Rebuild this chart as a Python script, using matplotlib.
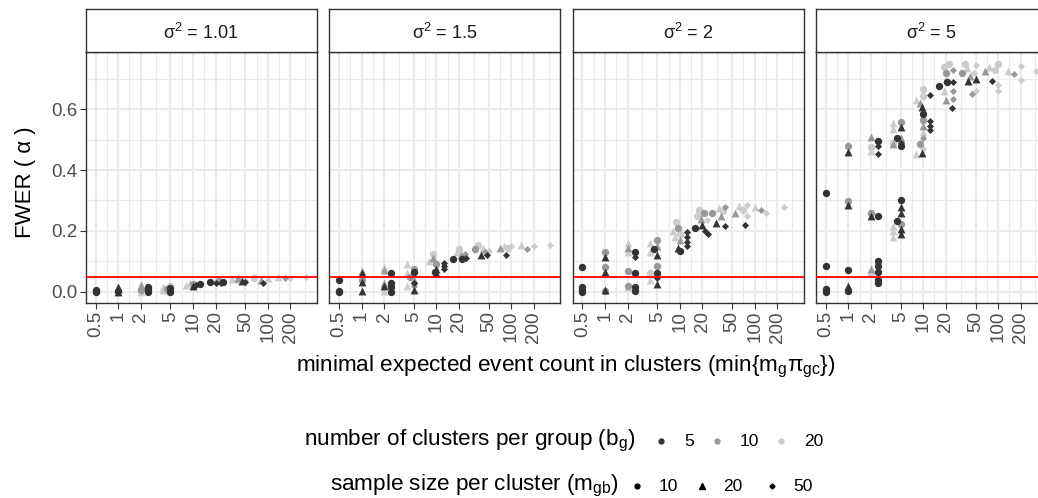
import matplotlib
matplotlib.use("Agg")
import matplotlib.pyplot as plt
import numpy as np
from matplotlib.lines import Line2D
from matplotlib.ticker import FixedLocator

plt.rcParams['font.family'] = ['Liberation Sans', 'DejaVu Sans']
plt.rcParams['mathtext.fontset'] = 'custom'
plt.rcParams['mathtext.rm'] = 'Liberation Sans'
plt.rcParams['mathtext.it'] = 'Liberation Sans'
plt.rcParams['mathtext.bf'] = 'Liberation Sans:bold'
plt.rcParams['mathtext.sf'] = 'Liberation Sans'

# facet labels (cluster variance)
sigma2_labels = ["1.01", "1.5", "2", "5"]

# x ticks: minimal expected event count
x_ticks = [0.5, 1, 2, 5, 10, 20, 50, 100, 200]
x_tick_labels = ["0.5", "1", "2", "5", "10", "20", "50", "100", "200"]
y_ticks = [0.0, 0.2, 0.4, 0.6]
y_tick_labels = ["0.0", "0.2", "0.4", "0.6"]
alpha_level = 0.05

# levels of the two design factors
b_levels = [5, 10, 20]          # clusters per group
m_levels = [10, 20, 50]         # sample size per cluster

# each point: (min expected count, FWER, b_g, m_gb)
fwer_s101 = [
    (0.5, 0.002, 5, 10), (0.5, 0.006, 5, 10), (0.5, 0.0, 5, 10),
    (1, 0.0, 5, 20), (1, 0.008, 5, 20), (1, 0.016, 5, 20), (1, 0.004, 5, 10),
    (2, 0.0, 20, 20), (2, 0.012, 20, 20), (2, 0.022, 10, 20), (2, 0.005, 10, 10),
    (2.5, 0.0, 5, 10), (2.5, 0.008, 5, 10), (2.5, 0.016, 5, 10), (2.5, 0.004, 5, 50),
    (4, 0.005, 20, 20), (4, 0.015, 20, 20), (4.5, 0.01, 10, 10), (5, 0.0, 5, 10),
    (5, 0.012, 5, 10), (5, 0.02, 20, 10), (5, 0.006, 10, 50),
    (8, 0.022, 20, 20), (9, 0.03, 20, 20), (10, 0.02, 5, 20), (10, 0.026, 10, 10),
    (11, 0.022, 5, 50), (12.5, 0.025, 5, 10),
    (17, 0.032, 5, 10), (20, 0.04, 20, 20), (22, 0.036, 10, 10), (24, 0.03, 5, 50),
    (25, 0.033, 5, 10), (20, 0.028, 5, 50),
    (33, 0.042, 20, 20), (40, 0.045, 10, 20), (45, 0.035, 5, 20), (50, 0.04, 20, 50),
    (50, 0.032, 5, 50), (40, 0.04, 20, 10),
    (65, 0.045, 20, 10), (80, 0.04, 10, 20), (85, 0.03, 5, 50), (100, 0.046, 20, 20),
    (135, 0.047, 20, 20), (170, 0.044, 10, 50), (200, 0.046, 20, 50), (325, 0.048, 20, 50),
]

fwer_s15 = [
    (0.5, 0.038, 5, 10), (0.5, 0.003, 5, 10), (0.5, 0.0, 5, 10),
    (1, 0.069, 10, 20), (1, 0.06, 5, 20), (1, 0.031, 5, 20), (1, 0.04, 10, 10), (1, 0.003, 5, 20),
    (2, 0.08, 20, 20), (2, 0.07, 10, 20), (2, 0.03, 10, 20), (2, 0.02, 5, 20), (2, 0.004, 20, 20),
    (2.5, 0.06, 5, 10), (2.5, 0.03, 5, 10), (2.5, 0.015, 5, 10), (2.5, 0.0, 5, 10),
    (4, 0.09, 20, 20), (4, 0.06, 20, 20), (4, 0.02, 20, 20), (4.5, 0.05, 10, 10),
    (5, 0.075, 10, 10), (5, 0.065, 5, 10), (5, 0.04, 10, 20), (5, 0.02, 10, 50),
    (5, 0.005, 5, 20), (5, 0.03, 5, 50),
    (8, 0.1, 20, 20), (9, 0.125, 20, 10), (9, 0.11, 10, 20), (10, 0.09, 10, 10),
    (10, 0.075, 5, 20), (9.5, 0.065, 5, 10), (10, 0.06, 5, 20),
    (12.5, 0.095, 5, 50), (12.5, 0.085, 5, 50), (12.5, 0.075, 5, 50),
    (16.5, 0.108, 5, 10), (19, 0.13, 20, 20), (20, 0.14, 20, 10), (21, 0.12, 10, 20),
    (22, 0.108, 5, 10), (24, 0.125, 10, 50), (25, 0.11, 5, 50), (20, 0.145, 20, 20),
    (33, 0.14, 10, 10), (36, 0.155, 20, 10), (40, 0.12, 5, 20), (42, 0.145, 20, 20),
    (45, 0.13, 10, 50), (50, 0.135, 20, 50), (48, 0.12, 5, 50),
    (70, 0.145, 10, 20), (80, 0.152, 20, 20), (85, 0.12, 5, 50), (90, 0.145, 20, 10),
    (100, 0.15, 20, 50),
    (135, 0.155, 20, 20), (165, 0.14, 10, 50), (200, 0.15, 20, 50), (325, 0.155, 20, 50),
]

fwer_s2 = [
    (0.5, 0.082, 5, 10), (0.5, 0.014, 5, 10), (0.5, 0.005, 5, 10), (0.5, 0.0, 5, 10),
    (1, 0.13, 10, 10), (1, 0.113, 5, 20), (1, 0.082, 10, 10), (1, 0.064, 5, 20),
    (1, 0.006, 5, 20), (1, 0.003, 10, 10),
    (2, 0.16, 20, 20), (2, 0.145, 10, 20), (2, 0.13, 20, 20), (2, 0.069, 10, 10),
    (2, 0.014, 20, 20), (2, 0.02, 10, 10),
    (2.5, 0.13, 5, 10), (2.5, 0.115, 5, 50), (2.5, 0.06, 5, 10), (2.5, 0.015, 5, 10),
    (2.5, 0.003, 5, 10),
    (4, 0.16, 20, 20), (4, 0.13, 20, 20), (4, 0.06, 20, 10), (4, 0.04, 20, 20),
    (4.5, 0.14, 5, 10), (5, 0.17, 10, 10), (5, 0.15, 10, 20), (5, 0.12, 5, 20),
    (5, 0.085, 10, 10), (5, 0.06, 5, 10), (5, 0.045, 5, 50), (5, 0.025, 5, 20),
    (8, 0.2, 20, 20), (8.5, 0.18, 20, 20), (9, 0.23, 20, 10), (9.5, 0.21, 10, 10),
    (10, 0.19, 20, 10), (10, 0.17, 10, 20), (9.5, 0.145, 5, 20), (10, 0.135, 5, 10),
    (12.5, 0.195, 5, 50), (12.5, 0.18, 5, 50), (12.5, 0.165, 5, 50), (12.5, 0.15, 5, 50),
    (16, 0.21, 5, 10), (17, 0.25, 20, 10), (18, 0.27, 20, 10), (19, 0.24, 10, 20),
    (20, 0.22, 5, 20), (21, 0.26, 10, 10), (22, 0.2, 5, 50), (23, 0.235, 20, 50),
    (24, 0.19, 5, 50),
    (27, 0.26, 10, 10), (30, 0.225, 5, 20), (33, 0.275, 20, 20), (35, 0.25, 10, 20),
    (38, 0.265, 20, 10), (40, 0.217, 5, 50), (40, 0.28, 10, 50),
    (55, 0.26, 10, 20), (62, 0.283, 20, 20), (70, 0.27, 20, 10), (75, 0.22, 5, 50),
    (80, 0.285, 20, 50), (78, 0.25, 20, 50),
    (100, 0.28, 20, 20), (120, 0.27, 10, 50), (140, 0.26, 20, 50), (250, 0.277, 20, 50),
]

fwer_s5 = [
    (0.5, 0.323, 5, 10), (0.5, 0.085, 5, 10), (0.5, 0.01, 5, 10), (0.5, 0.0, 5, 10),
    (1, 0.48, 10, 10), (1, 0.458, 5, 20), (1, 0.297, 10, 10), (1, 0.286, 5, 20),
    (1, 0.072, 5, 10), (1, 0.02, 5, 20), (1, 0.003, 5, 10),
    (2, 0.507, 10, 20), (2, 0.475, 20, 10), (2, 0.464, 20, 20), (2, 0.258, 10, 10),
    (2, 0.25, 5, 20), (2, 0.076, 10, 20), (2, 0.059, 20, 10),
    (2.5, 0.494, 5, 10), (2.5, 0.48, 5, 50), (2.5, 0.454, 5, 50), (2.5, 0.25, 5, 10),
    (2.5, 0.1, 5, 10), (2.5, 0.085, 5, 10), (2.5, 0.065, 5, 10), (2.5, 0.04, 5, 10),
    (2.5, 0.03, 5, 10),
    (4, 0.553, 20, 20), (4, 0.535, 20, 20), (4, 0.49, 20, 10), (4, 0.487, 10, 20),
    (4, 0.217, 20, 20), (4, 0.2, 20, 20), (4, 0.18, 20, 20), (4.5, 0.505, 5, 10),
    (4.5, 0.233, 5, 10), (5, 0.557, 10, 10), (5, 0.54, 5, 20), (5, 0.505, 10, 20),
    (5, 0.49, 5, 50), (5, 0.48, 5, 10), (5, 0.303, 5, 10), (5, 0.277, 5, 20),
    (5, 0.26, 5, 20), (5, 0.223, 10, 10), (5, 0.207, 5, 20), (5, 0.19, 5, 20),
    (8, 0.63, 20, 20), (8, 0.454, 20, 20), (9, 0.62, 10, 20), (9.5, 0.606, 5, 20),
    (9.5, 0.456, 5, 20), (10, 0.667, 20, 10), (10, 0.645, 20, 10), (10, 0.585, 5, 10),
    (10, 0.565, 10, 10), (10, 0.545, 10, 20), (10, 0.525, 20, 20), (10, 0.505, 10, 50),
    (9, 0.487, 10, 10), (10, 0.47, 20, 50), (12.5, 0.648, 5, 50), (12.5, 0.562, 5, 50),
    (12.5, 0.545, 5, 50), (12.5, 0.53, 5, 50),
    (16.5, 0.675, 5, 10), (19, 0.74, 20, 10), (20, 0.72, 10, 10), (20, 0.7, 20, 20),
    (19, 0.66, 20, 20), (20, 0.63, 10, 20), (21, 0.69, 5, 10), (22, 0.75, 20, 10),
    (25, 0.73, 10, 50), (25, 0.69, 5, 50), (25, 0.66, 10, 50), (25, 0.635, 10, 50),
    (24, 0.603, 5, 50),
    (33, 0.72, 10, 10), (36, 0.75, 20, 10), (40, 0.694, 5, 20), (38, 0.735, 20, 20),
    (42, 0.71, 10, 20), (45, 0.65, 10, 50), (48, 0.72, 20, 50), (50, 0.7, 5, 20),
    (50, 0.745, 20, 50), (50, 0.66, 20, 50),
    (66, 0.727, 10, 20), (75, 0.74, 20, 20), (84, 0.692, 5, 50), (90, 0.73, 20, 10),
    (100, 0.75, 20, 10), (100, 0.68, 20, 50), (100, 0.66, 20, 50),
    (135, 0.727, 20, 20), (166, 0.717, 10, 50), (200, 0.743, 20, 50), (200, 0.697, 20, 50),
    (325, 0.727, 20, 50),
]

panels = [fwer_s101, fwer_s15, fwer_s2, fwer_s5]

# aesthetics
colour_of = {5: "#333333", 10: "#999999", 20: "#cccccc"}
marker_of = {10: "o", 20: "^", 50: "D"}
size_of = {10: 28, 20: 32, 50: 13}
grid_col = "#ebebeb"
frame_col = "#333333"
tick_col = "#4d4d4d"

W, H = 1038, 498
fig = plt.figure(figsize=(W / 100, H / 100), dpi=100)

px_left0, px_w, px_step = 85.7, 231.0, 243.4
px_top, px_bot, px_strip_top = 52.3, 302.7, 9.3

xlim = (0.368, 450)
ylim = (-0.036, 0.787)
x_minor = [np.sqrt(a * b) for a, b in zip([0.5, 1, 2, 5, 10, 20, 50, 100, 200],
                                          [1, 2, 5, 10, 20, 50, 100, 200, 500])]
y_minor = [0.1, 0.3, 0.5, 0.7]

for i, (data, lab) in enumerate(zip(panels, sigma2_labels)):
    left = (px_left0 + i * px_step) / W
    ax = fig.add_axes([left, 1 - px_bot / H, px_w / W, (px_bot - px_top) / H])
    ax.set_xscale("log")
    ax.set_xlim(*xlim)
    ax.set_ylim(*ylim)
    ax.set_facecolor("white")

    # grid
    for xv in x_minor:
        ax.axvline(xv, color=grid_col, lw=0.8, zorder=0)
    for xv in x_ticks:
        ax.axvline(xv, color=grid_col, lw=1.5, zorder=0)
    for yv in y_minor:
        ax.axhline(yv, color=grid_col, lw=0.8, zorder=0)
    for yv in y_ticks:
        ax.axhline(yv, color=grid_col, lw=1.5, zorder=0)

    arr = np.array(data, dtype=float)
    for b in [20, 10, 5]:
        for m in m_levels:
            sel = (arr[:, 2] == b) & (arr[:, 3] == m)
            if sel.any():
                ax.scatter(arr[sel, 0], arr[sel, 1], s=size_of[m], marker=marker_of[m],
                           color=colour_of[b], linewidths=0, zorder=2)

    ax.axhline(alpha_level, color="red", lw=1.3, zorder=3)

    ax.xaxis.set_major_locator(FixedLocator(x_ticks))
    ax.xaxis.set_minor_locator(FixedLocator([]))
    ax.set_xticklabels(x_tick_labels, rotation=90, fontsize=13.5, color=tick_col)
    ax.tick_params(axis="x", length=4, width=0.8, color=frame_col, pad=2)
    if i == 0:
        ax.set_yticks(y_ticks)
        ax.set_yticklabels(y_tick_labels, fontsize=13.5, color=tick_col)
        ax.tick_params(axis="y", length=4, width=0.8, color=frame_col, pad=2)
    else:
        ax.set_yticks([])
    ax.yaxis.set_minor_locator(FixedLocator([]))
    for sp in ax.spines.values():
        sp.set_color(frame_col)
        sp.set_linewidth(1.0)

    # facet strip
    sax = fig.add_axes([left, 1 - px_top / H, px_w / W, (px_top - px_strip_top) / H])
    sax.set_xticks([])
    sax.set_yticks([])
    sax.set_facecolor("white")
    for sp in sax.spines.values():
        sp.set_color(frame_col)
        sp.set_linewidth(1.0)
    sax.text(0.5, 0.45, "σ$^2$ = " + lab, ha="center", va="center",
             fontsize=13, color="#1a1a1a", transform=sax.transAxes)

# axis titles
fig.text(566 / W, 1 - 367 / H,
         r"minimal expected event count in clusters (min{m$_\mathrm{g}\pi_\mathrm{gc}$})",
         ha="center", va="center", fontsize=16.2)
fig.text(25 / W, 1 - 182 / H, "FWER ( α )", rotation=90, ha="center", va="center",
         fontsize=16)

# legends drawn as two rows
def legend_row(y_px, title, title_right_px, entries):
    y = 1 - y_px / H
    fig.text(title_right_px / W, y, title, ha="right", va="center", fontsize=16.2)
    for mx, lx, marker, ms, col, txt in entries:
        fig.add_artist(Line2D([mx / W], [y], marker=marker, markersize=ms, color=col,
                              linestyle="none", transform=fig.transFigure))
        fig.text(lx / W, y, txt, ha="left", va="center", fontsize=12.5)

legend_row(441, r"number of clusters per group (b$_\mathrm{g}$)", 636,
           [(661, 684, "o", 3.5, colour_of[5], "5"),
            (717, 740, "o", 3.5, colour_of[10], "10"),
            (781, 804, "o", 3.5, colour_of[20], "20")])
legend_row(486, r"sample size per cluster (m$_\mathrm{gb}$)", 619,
           [(637, 659, "o", 3.5, "#000000", "10"),
            (702, 723, "^", 4.0, "#000000", "20"),
            (772, 793, "D", 2.6, "#000000", "50")])

fig.savefig("out.png", dpi=100)
